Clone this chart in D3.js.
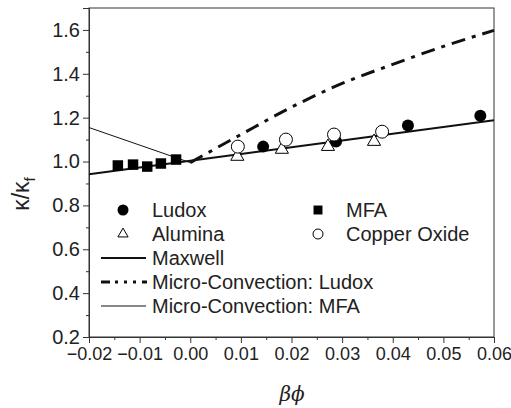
<!DOCTYPE html>
<html>
<head>
<meta charset="utf-8">
<script src="https://cdn.jsdelivr.net/npm/d3@7"></script>
<style>
  body { margin: 0; background: #fff; }
  svg { font-family: "Liberation Sans", Arial, sans-serif; }
</style>
</head>
<body>
<svg id="chart" width="511" height="408"></svg>
<script>
// data
const ludoxX = [0.0144, 0.0288, 0.0430, 0.0573];
const ludoxY = [1.068, 1.091, 1.164, 1.209];
const mfaX = [-0.0143, -0.0113, -0.0085, -0.0058, -0.0028];
const mfaY = [0.982, 0.986, 0.977, 0.991, 1.009];
const aluminaX = [0.0093, 0.0181, 0.0272, 0.0363];
const aluminaY = [1.023, 1.055, 1.068, 1.091];
const copperX = [0.0094, 0.0189, 0.0284, 0.0379];
const copperY = [1.068, 1.100, 1.123, 1.136];

const maxwellX = [-0.02, 0.06];
const maxwellY = [0.942, 1.188];
const mcLudoxX = [0.0, 0.01, 0.02, 0.03, 0.04, 0.05, 0.06];
const mcLudoxY = [0.995, 1.123, 1.248, 1.356, 1.443, 1.525, 1.598];
const mcMfaX = [-0.02, 0.0];
const mcMfaY = [1.155, 0.995];

const xTicks = [-0.02, -0.01, 0.00, 0.01, 0.02, 0.03, 0.04, 0.05, 0.06];
const yTicks = [0.2, 0.4, 0.6, 0.8, 1.0, 1.2, 1.4, 1.6];

const svg = d3.select("#chart");
const margin = {top: 8, right: 17, bottom: 71, left: 89};
const width = 511 - margin.left - margin.right,
      height = 408 - margin.top - margin.bottom;

const x = d3.scaleLinear().domain([-0.02, 0.06]).range([margin.left, margin.left + width]);
const y = d3.scaleLinear().domain([0.2, 1.7]).range([margin.top + height, margin.top]);

const zip = (xs, ys) => xs.map((v, i) => [v, ys[i]]);
const line = d3.line().x(d => x(d[0])).y(d => y(d[1]));
const curve = d3.line().x(d => x(d[0])).y(d => y(d[1])).curve(d3.curveMonotoneX);

// frame
svg.append("rect")
    .attr("x", margin.left).attr("y", margin.top)
    .attr("width", width).attr("height", height)
    .attr("fill", "none").attr("stroke", "#333").attr("stroke-width", 1);

// axes
svg.append("g")
    .attr("class", "xaxis")
    .attr("transform", `translate(0,${margin.top + height})`)
    .call(d3.axisBottom(x).tickValues(xTicks).tickFormat(d3.format(".2f")).tickSize(6).tickPadding(4));
svg.append("g")
    .attr("transform", `translate(0,${margin.top + height})`)
    .call(d3.axisBottom(x).tickValues(d3.range(-0.015, 0.06, 0.01)).tickFormat("").tickSize(3));

svg.append("g")
    .attr("class", "yaxis")
    .attr("transform", `translate(${margin.left},0)`)
    .call(d3.axisLeft(y).tickValues(yTicks).tickFormat(d3.format(".1f")).tickSize(6).tickPadding(3));
svg.append("g")
    .attr("transform", `translate(${margin.left},0)`)
    .call(d3.axisLeft(y).tickValues([0.3, 0.5, 0.7, 0.9, 1.1, 1.3, 1.5, 1.7]).tickFormat("").tickSize(3));

svg.selectAll(".domain").attr("stroke", "#333");
svg.selectAll(".tick line").attr("stroke", "#333");
svg.selectAll(".tick text").attr("fill", "#222")
    .style("font-family", "'Liberation Sans', Arial, sans-serif");
svg.selectAll(".xaxis .tick text").style("font-size", "18px");
svg.selectAll(".yaxis .tick text").style("font-size", "20px");

// lines
svg.append("path").datum(zip(maxwellX, maxwellY))
    .attr("d", line).attr("fill", "none").attr("stroke", "#111").attr("stroke-width", 2);
svg.append("path").datum(zip(mcMfaX, mcMfaY))
    .attr("d", line).attr("fill", "none").attr("stroke", "#111").attr("stroke-width", 1);
svg.append("path").datum(zip(mcLudoxX, mcLudoxY))
    .attr("d", curve).attr("fill", "none").attr("stroke", "#111").attr("stroke-width", 3)
    .attr("stroke-dasharray", "14,7,4,7");

// markers
const tri = d3.symbol().type(d3.symbolTriangle).size(75);
const sq = d3.symbol().type(d3.symbolSquare).size(110);

svg.append("g").selectAll("circle").data(zip(ludoxX, ludoxY)).enter().append("circle")
    .attr("cx", d => x(d[0])).attr("cy", d => y(d[1])).attr("r", 6).attr("fill", "#000");
svg.append("g").selectAll("path").data(zip(mfaX, mfaY)).enter().append("path")
    .attr("d", sq).attr("transform", d => `translate(${x(d[0])},${y(d[1])})`).attr("fill", "#000");
svg.append("g").selectAll("path").data(zip(aluminaX, aluminaY)).enter().append("path")
    .attr("d", tri).attr("transform", d => `translate(${x(d[0])},${y(d[1])})`)
    .attr("fill", "#fff").attr("stroke", "#000").attr("stroke-width", 1);
svg.append("g").selectAll("circle").data(zip(copperX, copperY)).enter().append("circle")
    .attr("cx", d => x(d[0])).attr("cy", d => y(d[1])).attr("r", 6.5)
    .attr("fill", "#fff").attr("stroke", "#000").attr("stroke-width", 1);

// legend
const leg = svg.append("g").style("font-size", "20px").attr("fill", "#222");
const rows = [210, 234, 258, 282, 306];
leg.append("circle").attr("cx", 123).attr("cy", rows[0]).attr("r", 5.5).attr("fill", "#000");
leg.append("text").attr("x", 152).attr("y", rows[0] + 7).text("Ludox");
leg.append("path").attr("d", d3.symbol().type(d3.symbolTriangle).size(45))
    .attr("transform", `translate(123,${rows[1]})`).attr("fill", "#fff").attr("stroke", "#000");
leg.append("text").attr("x", 152).attr("y", rows[1] + 7).text("Alumina");
leg.append("line").attr("x1", 101).attr("x2", 146).attr("y1", rows[2]).attr("y2", rows[2])
    .attr("stroke", "#111").attr("stroke-width", 2);
leg.append("text").attr("x", 152).attr("y", rows[2] + 7).text("Maxwell");
leg.append("line").attr("x1", 101).attr("x2", 147).attr("y1", rows[3]).attr("y2", rows[3])
    .attr("stroke", "#111").attr("stroke-width", 3).attr("stroke-dasharray", "9,5,3,6,3,6,3,6");
leg.append("text").attr("x", 152).attr("y", rows[3] + 7).text("Micro-Convection: Ludox");
leg.append("line").attr("x1", 101).attr("x2", 146).attr("y1", rows[4]).attr("y2", rows[4])
    .attr("stroke", "#111").attr("stroke-width", 1);
leg.append("text").attr("x", 152).attr("y", rows[4] + 7).text("Micro-Convection: MFA");

leg.append("path").attr("d", d3.symbol().type(d3.symbolSquare).size(80))
    .attr("transform", `translate(318,${rows[0]})`).attr("fill", "#000");
leg.append("text").attr("x", 346).attr("y", rows[0] + 7).text("MFA");
leg.append("circle").attr("cx", 318).attr("cy", rows[1]).attr("r", 5)
    .attr("fill", "#fff").attr("stroke", "#000");
leg.append("text").attr("x", 346).attr("y", rows[1] + 7).text("Copper Oxide");

// axis titles
svg.append("text")
    .attr("x", 292).attr("y", 401)
    .attr("text-anchor", "middle")
    .style("font-family", "'DejaVu Serif', 'Liberation Serif', serif")
    .style("font-style", "italic").style("font-size", "20px")
    .attr("fill", "#222")
    .text("βϕ");

const yl = svg.append("text")
    .attr("transform", "translate(29,194) rotate(-90)")
    .attr("text-anchor", "middle")
    .style("font-size", "23px").attr("fill", "#222");
yl.append("tspan").text("κ/κ");
yl.append("tspan").attr("dy", 6).style("font-size", "15px").text("f");
</script>
</body>
</html>
